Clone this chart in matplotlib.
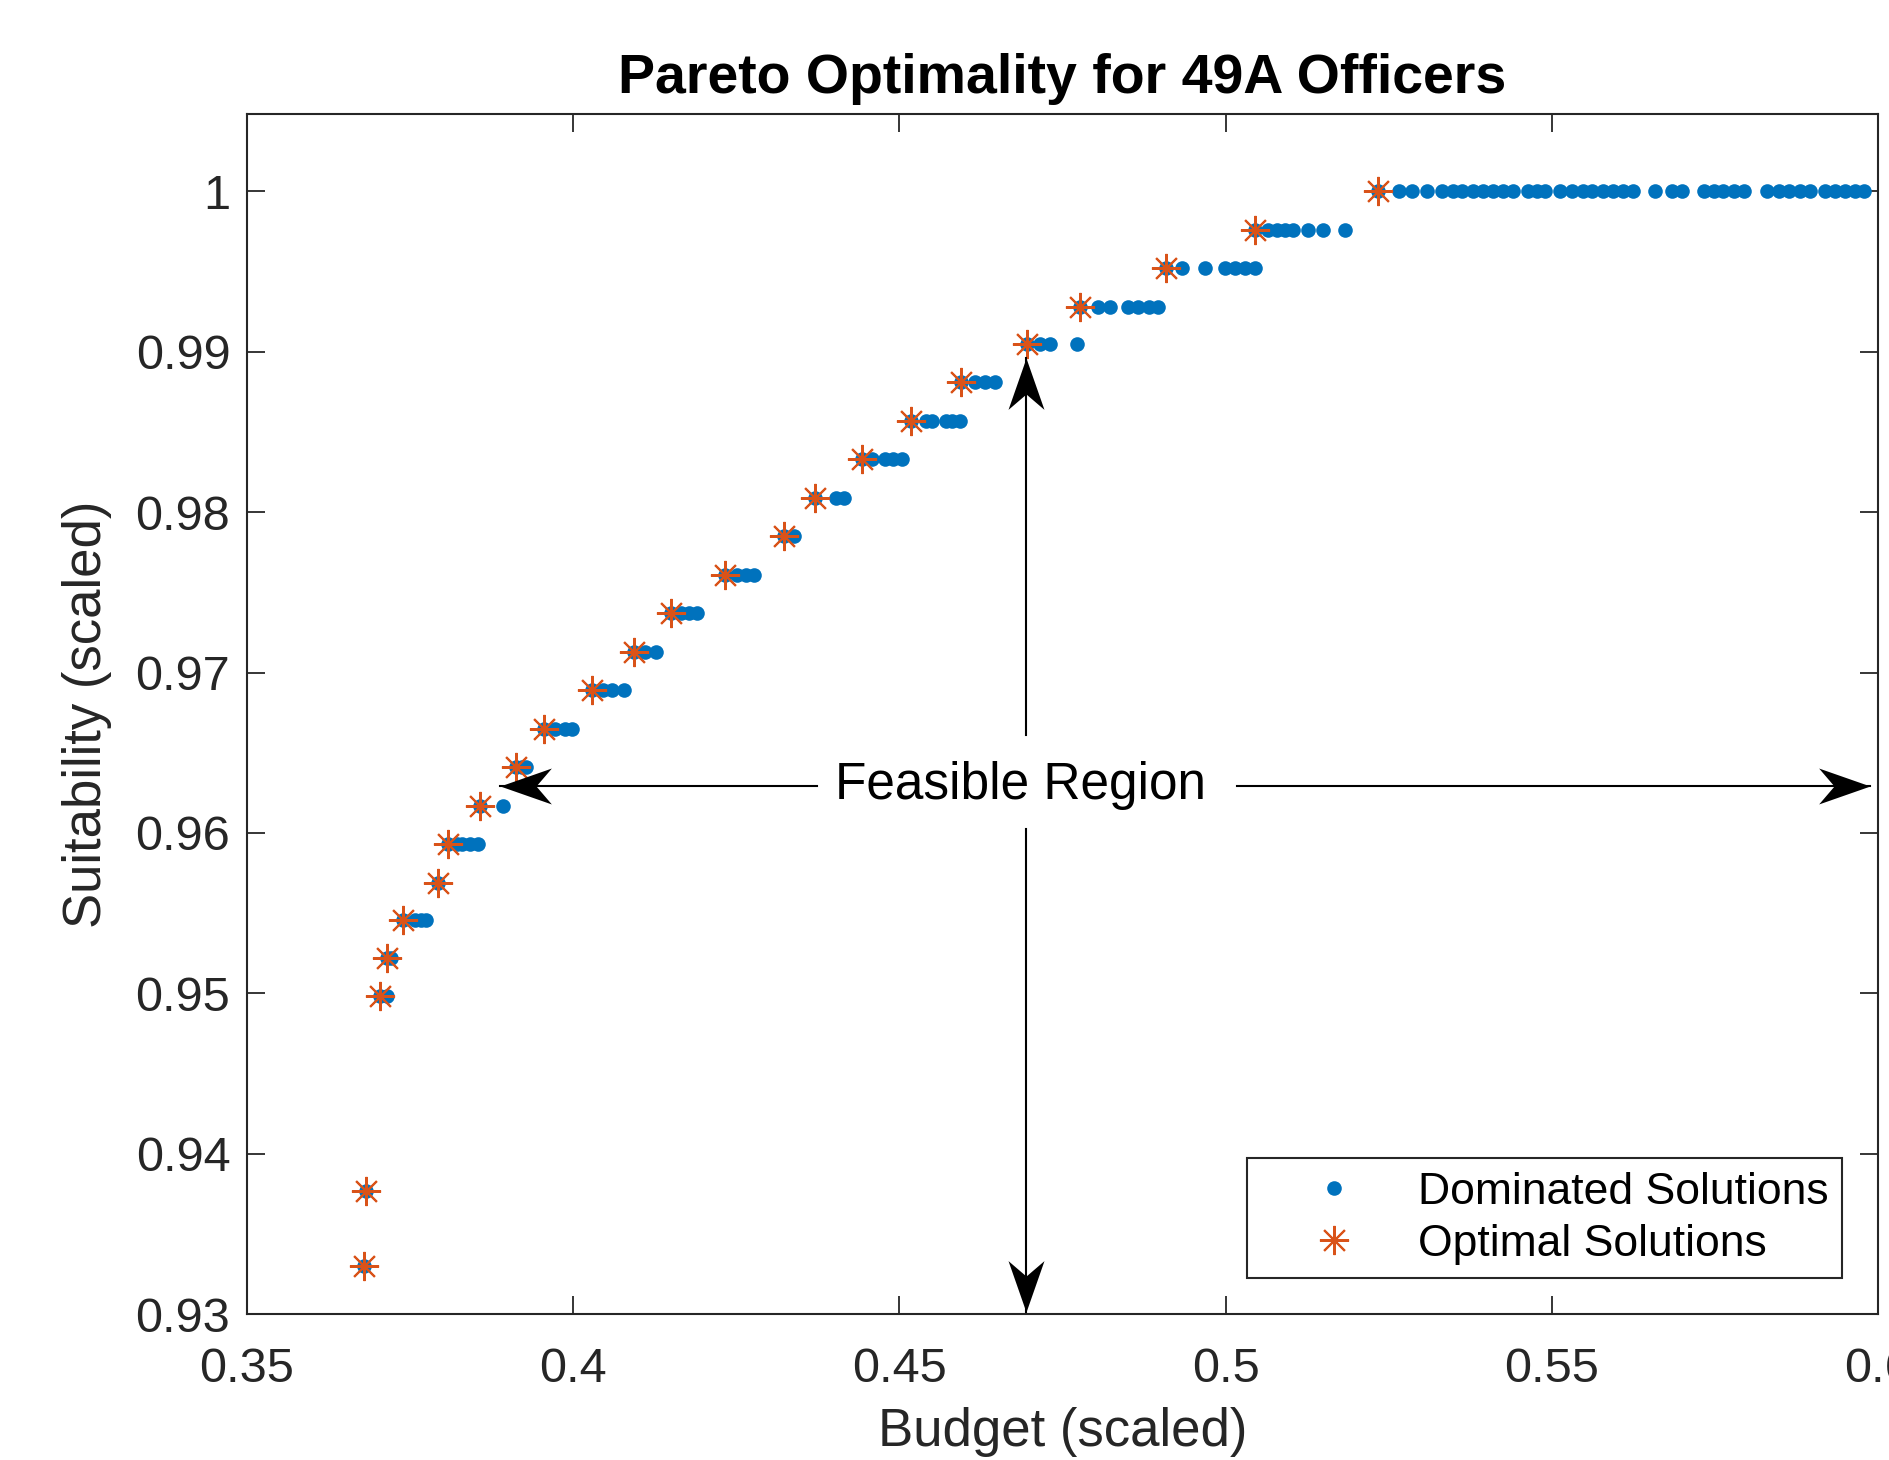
import numpy as np
import matplotlib
matplotlib.use("Agg")
import matplotlib.pyplot as plt
from matplotlib.path import Path

plt.rcParams['font.family'] = ['Liberation Sans', 'DejaVu Sans']

# optimal (pareto) solutions
opt_budget = [0.3679, 0.3682, 0.3704, 0.3714, 0.3739, 0.3793, 0.3808, 0.3857,
              0.3912, 0.3955, 0.4029, 0.4093, 0.4150, 0.4233, 0.4323, 0.4370,
              0.4443, 0.4517, 0.4594, 0.4695, 0.4777, 0.4909, 0.5045, 0.5234]
opt_suit = [0.9330, 0.9377, 0.9498, 0.9522, 0.9546, 0.9569, 0.9593, 0.9617,
            0.9641, 0.9665, 0.9689, 0.9713, 0.9737, 0.9761, 0.9785, 0.9809,
            0.9833, 0.9857, 0.9881, 0.9905, 0.9928, 0.9952, 0.9976, 1.0]

# dominated solutions, one list of budgets per suitability level
dom_level = [0.9498, 0.9522, 0.9546, 0.9593, 0.9617, 0.9641, 0.9665, 0.9689,
             0.9713, 0.9737, 0.9761, 0.9785, 0.9809, 0.9833, 0.9857, 0.9881,
             0.9905, 0.9928, 0.9952, 0.9976, 1.0]
dom_budget = [
    [0.3714],
    [0.3721],
    [0.3758, 0.3766, 0.3775],
    [0.3822, 0.3829, 0.3841, 0.3854],
    [0.3892],
    [0.3922, 0.3928],
    [0.3972, 0.3987, 0.3998],
    [0.4045, 0.4060, 0.4078],
    [0.4110, 0.4127],
    [0.4165, 0.4177, 0.4189],
    [0.4251, 0.4265, 0.4277],
    [0.4338],
    [0.4402, 0.4415],
    [0.4458, 0.4478, 0.4490, 0.4504],
    [0.4540, 0.4550, 0.4571, 0.4580, 0.4593],
    [0.4616, 0.4631, 0.4647],
    [0.4716, 0.4731, 0.4772],
    [0.4805, 0.4823, 0.4851, 0.4866, 0.4882, 0.4897],
    [0.4933, 0.4968, 0.4999, 0.5014, 0.5030, 0.5045],
    [0.5065, 0.5078, 0.5091, 0.5103, 0.5126, 0.5149, 0.5183],
    [0.5265, 0.5286, 0.5309, 0.5332, 0.5348, 0.5363, 0.5379, 0.5394, 0.5410,
     0.5425, 0.5441, 0.5464, 0.5477, 0.5490, 0.5513, 0.5531, 0.5547, 0.5562,
     0.5578, 0.5593, 0.5609, 0.5624, 0.5658, 0.5684, 0.5699, 0.5733, 0.5748,
     0.5763, 0.5779, 0.5795, 0.5830, 0.5848, 0.5864, 0.5880, 0.5895, 0.5919,
     0.5934, 0.5950, 0.5965, 0.5978],
]

xticks = [0.35, 0.4, 0.45, 0.5, 0.55, 0.6]
xticklabels = ['0.35', '0.4', '0.45', '0.5', '0.55', '0.6']
yticks = [0.93, 0.94, 0.95, 0.96, 0.97, 0.98, 0.99, 1.0]
yticklabels = ['0.93', '0.94', '0.95', '0.96', '0.97', '0.98', '0.99', '1']

blue = '#0072BD'
orange = '#D95319'
dark = '#262626'


def head(ux, uy):
    # notched arrow head, tip at origin, pointing along (ux, uy)
    px, py = -uy, ux
    pts = [(0, 0), (-ux + 0.35 * px, -uy + 0.35 * py), (-0.7 * ux, -0.7 * uy),
           (-ux - 0.35 * px, -uy - 0.35 * py), (0, 0)]
    return Path(pts, [Path.MOVETO, Path.LINETO, Path.LINETO, Path.LINETO, Path.CLOSEPOLY])


def arrow(ax, x0, y0, x1, y1, ux, uy):
    ax.plot([x0, x1], [y0, y1], color='black', lw=1.5, zorder=5, clip_on=False)
    ax.plot([x1], [y1], linestyle='none', marker=head(ux, uy), ms=74, mew=0,
            color='black', zorder=6, clip_on=False)


fig = plt.figure(figsize=(18.9, 14.6), dpi=100)
ax = fig.add_axes([0.1307, 0.1, 0.863, 0.8216])

# all solutions as dots (the optimal ones sit under the stars)
dx = [b for row in dom_budget for b in row] + opt_budget
dy = [lv for lv, row in zip(dom_level, dom_budget) for b in row] + opt_suit
ax.plot(dx, dy, 'o', color=blue, ms=10.5, mew=0, label='Dominated Solutions', zorder=3)
ax.plot(opt_budget, opt_suit, linestyle='none', marker=(8, 2, 0), color=orange,
        ms=21, mew=1.5, label='Optimal Solutions', zorder=4)

ax.set_xlim(0.35, 0.6)
ax.set_ylim(0.93, 1.0048)
ax.set_xticks(xticks)
ax.set_xticklabels(xticklabels)
ax.set_yticks(yticks)
ax.set_yticklabels(yticklabels)
ax.tick_params(direction='in', length=13, width=1.3, colors=dark, labelsize=35,
               top=True, right=True)
ax.tick_params(axis='x', pad=24)
ax.tick_params(axis='y', pad=12)
for s in ax.spines.values():
    s.set_color(dark)
    s.set_linewidth(1.5)

ax.set_title('Pareto Optimality for 49A Officers', fontsize=40, fontweight='bold',
             color='black', y=1.023, va='center')
ax.set_xlabel('Budget (scaled)', fontsize=38, color=dark)
ax.xaxis.set_label_coords(0.5, -0.098)
ax.xaxis.label.set_va('center')
ax.set_ylabel('Suitability (scaled)', fontsize=38, color=dark)
ax.yaxis.set_label_coords(-0.098, 0.5)
ax.yaxis.label.set_va('center')

# feasible region label with arrows
fx, fy = 0.4686, 0.96293
ax.text(fx, fy, 'Feasible Region', fontsize=37, ha='center', va='center', color='black')
arrow(ax, 0.4373, fy, 0.3887, fy, -1, 0)
arrow(ax, 0.5018, fy, 0.5987, fy, 1, 0)
arrow(ax, 0.4694, 0.96609, 0.4694, 0.98962, 0, 1)
arrow(ax, 0.4694, 0.96023, 0.4694, 0.9301, 0, -1)

leg = ax.legend(loc='lower right', bbox_to_anchor=(0.978, 0.03), borderaxespad=0,
                fontsize=32, fancybox=False, framealpha=1, edgecolor=dark,
                borderpad=0.3, handlelength=3.3, handletextpad=0.25, labelspacing=0.25)
leg.get_frame().set_linewidth(1.5)

fig.savefig('out.png', dpi=100)
